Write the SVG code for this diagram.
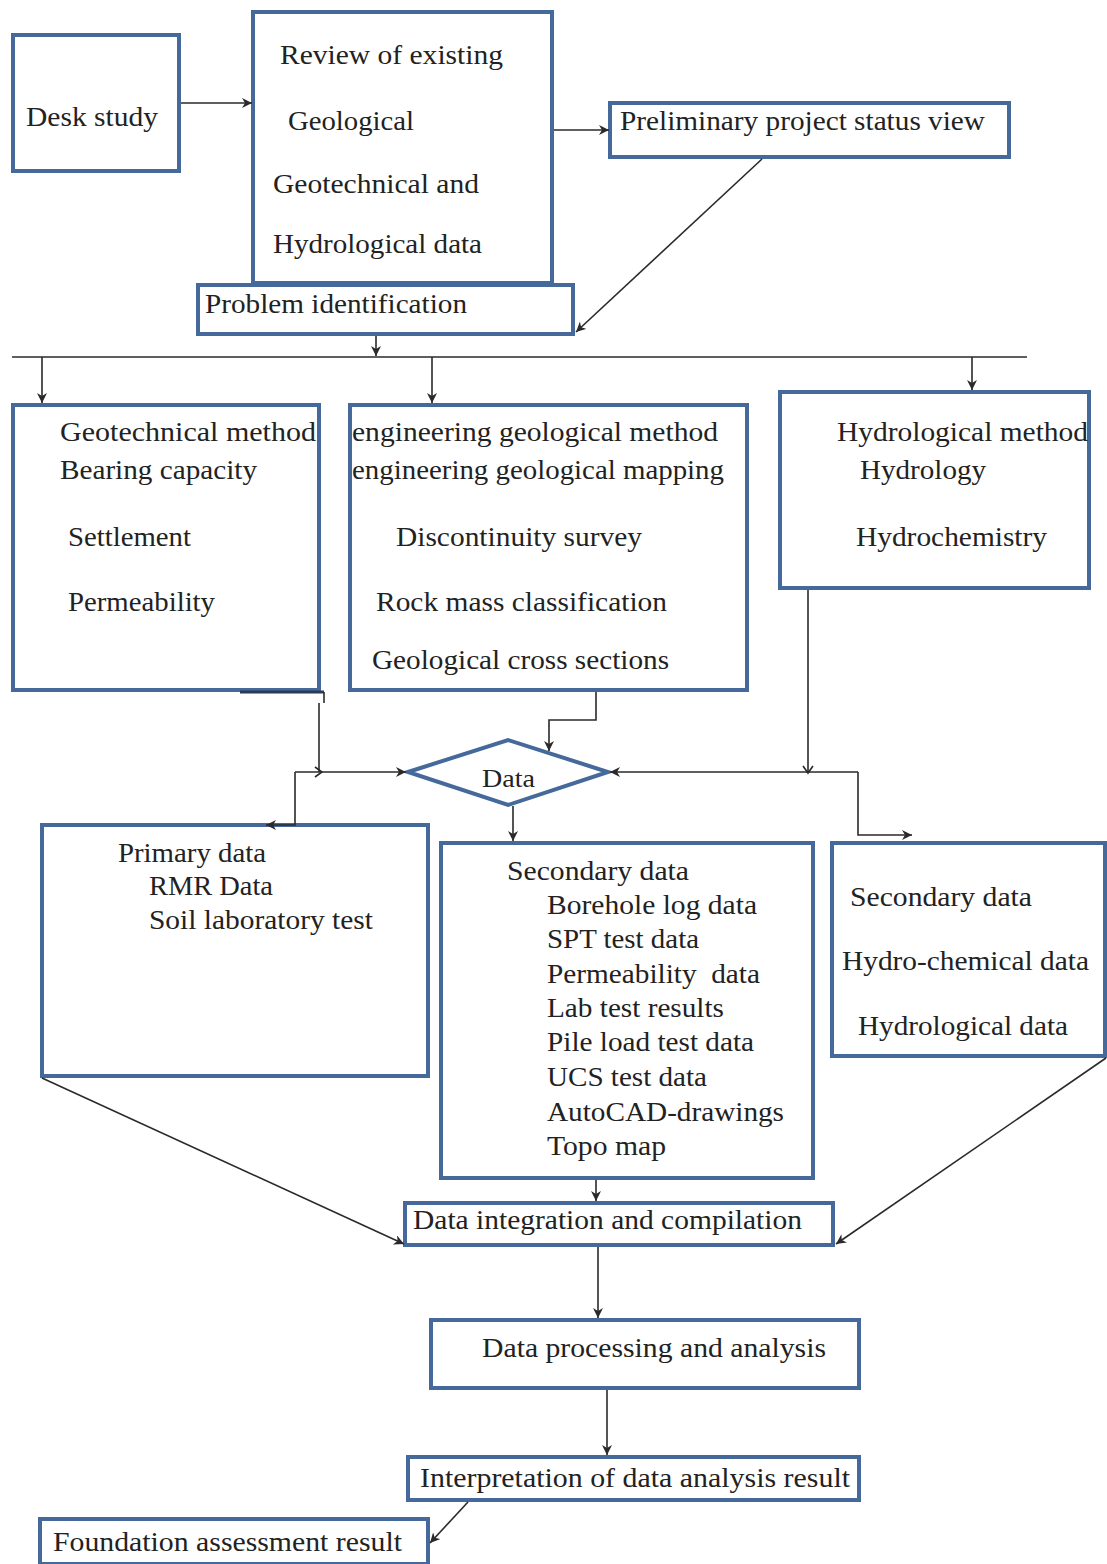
<svg xmlns="http://www.w3.org/2000/svg" width="1107" height="1564" viewBox="0 0 1107 1564">
<style>
.box{fill:#fff;stroke:#45699a;stroke-width:4}
.t{font-family:"Liberation Serif","Times New Roman",serif;font-size:28px;fill:#222}
.c{fill:none;stroke:#2a2a2a;stroke-width:1.6}
</style>
<defs>
<marker id="ah" markerUnits="userSpaceOnUse" markerWidth="12" markerHeight="12" refX="10" refY="5" orient="auto">
<path d="M0,0 L10,5 L0,10 L3,5 Z" fill="#2a2a2a"/>
</marker>
</defs>
<rect width="1107" height="1564" fill="#fff"/>

<g id="desk-study">
<rect class="box" x="13" y="35" width="166" height="136"/>
<text class="t" x="26" y="126" textLength="132" lengthAdjust="spacingAndGlyphs">Desk study</text>
</g>

<g id="review">
<rect class="box" x="253" y="12" width="299" height="271"/>
<text class="t" x="280" y="64" textLength="223" lengthAdjust="spacingAndGlyphs">Review of existing</text>
<text class="t" x="288" y="130" textLength="126" lengthAdjust="spacingAndGlyphs">Geological</text>
<text class="t" x="273" y="193" textLength="206" lengthAdjust="spacingAndGlyphs">Geotechnical and</text>
<text class="t" x="273" y="253" textLength="209" lengthAdjust="spacingAndGlyphs">Hydrological data</text>
</g>

<g id="preliminary">
<rect class="box" x="610" y="103" width="399" height="54"/>
<text class="t" x="620" y="130" textLength="365" lengthAdjust="spacingAndGlyphs">Preliminary project status view</text>
</g>

<g id="problem">
<rect class="box" x="198" y="285" width="375" height="49"/>
<text class="t" x="205" y="313" textLength="262" lengthAdjust="spacingAndGlyphs">Problem identification</text>
</g>

<g id="geotechnical">
<rect class="box" x="13" y="405" width="306" height="285"/>
<text class="t" x="60" y="441" textLength="256" lengthAdjust="spacingAndGlyphs">Geotechnical method</text>
<text class="t" x="60" y="479" textLength="197" lengthAdjust="spacingAndGlyphs">Bearing capacity</text>
<text class="t" x="68" y="546" textLength="123" lengthAdjust="spacingAndGlyphs">Settlement</text>
<text class="t" x="68" y="611" textLength="147" lengthAdjust="spacingAndGlyphs">Permeability</text>
</g>

<g id="engineering">
<rect class="box" x="350" y="405" width="397" height="285"/>
<text class="t" x="352" y="441" textLength="366" lengthAdjust="spacingAndGlyphs">engineering geological method</text>
<text class="t" x="352" y="479" textLength="372" lengthAdjust="spacingAndGlyphs">engineering geological mapping</text>
<text class="t" x="396" y="546" textLength="246" lengthAdjust="spacingAndGlyphs">Discontinuity survey</text>
<text class="t" x="376" y="611" textLength="291" lengthAdjust="spacingAndGlyphs">Rock mass classification</text>
<text class="t" x="372" y="669" textLength="297" lengthAdjust="spacingAndGlyphs">Geological cross sections</text>
</g>

<g id="hydrological">
<rect class="box" x="780" y="392" width="309" height="196"/>
<text class="t" x="837" y="441" textLength="251" lengthAdjust="spacingAndGlyphs">Hydrological method</text>
<text class="t" x="860" y="479" textLength="126" lengthAdjust="spacingAndGlyphs">Hydrology</text>
<text class="t" x="856" y="546" textLength="191" lengthAdjust="spacingAndGlyphs">Hydrochemistry</text>
</g>

<g id="data">
<polygon class="box" points="408,772 508,740 608,772 508,805"/>
<text class="t" x="482" y="787" textLength="53" lengthAdjust="spacingAndGlyphs" style="font-size:26px">Data</text>
</g>

<g id="primary">
<rect class="box" x="42" y="825" width="386" height="251"/>
<text class="t" x="118" y="862" textLength="148" lengthAdjust="spacingAndGlyphs">Primary data</text>
<text class="t" x="149" y="895" textLength="124" lengthAdjust="spacingAndGlyphs">RMR Data</text>
<text class="t" x="149" y="929" textLength="224" lengthAdjust="spacingAndGlyphs">Soil laboratory test</text>
</g>

<g id="secondary-center">
<rect class="box" x="441" y="843" width="372" height="335"/>
<text class="t" x="507" y="880" textLength="182" lengthAdjust="spacingAndGlyphs">Secondary data</text>
<text class="t" x="547" y="914" textLength="210" lengthAdjust="spacingAndGlyphs">Borehole log data</text>
<text class="t" x="547" y="948" textLength="152" lengthAdjust="spacingAndGlyphs">SPT test data</text>
<text class="t" x="547" y="983" textLength="213" lengthAdjust="spacingAndGlyphs" xml:space="preserve">Permeability  data</text>
<text class="t" x="547" y="1017" textLength="177" lengthAdjust="spacingAndGlyphs">Lab test results</text>
<text class="t" x="547" y="1051" textLength="207" lengthAdjust="spacingAndGlyphs">Pile load test data</text>
<text class="t" x="547" y="1086" textLength="160" lengthAdjust="spacingAndGlyphs">UCS test data</text>
<text class="t" x="547" y="1121" textLength="237" lengthAdjust="spacingAndGlyphs">AutoCAD-drawings</text>
<text class="t" x="547" y="1155" textLength="119" lengthAdjust="spacingAndGlyphs">Topo map</text>
</g>

<g id="secondary-right">
<rect class="box" x="832" y="843" width="273" height="213"/>
<text class="t" x="850" y="906" textLength="182" lengthAdjust="spacingAndGlyphs">Secondary data</text>
<text class="t" x="842" y="970" textLength="247" lengthAdjust="spacingAndGlyphs">Hydro-chemical data</text>
<text class="t" x="858" y="1035" textLength="210" lengthAdjust="spacingAndGlyphs">Hydrological data</text>
</g>

<g id="integration">
<rect class="box" x="405" y="1203" width="428" height="42"/>
<text class="t" x="413" y="1229" textLength="389" lengthAdjust="spacingAndGlyphs">Data integration and compilation</text>
</g>

<g id="processing">
<rect class="box" x="431" y="1320" width="428" height="68"/>
<text class="t" x="482" y="1357" textLength="344" lengthAdjust="spacingAndGlyphs">Data processing and analysis</text>
</g>

<g id="interpretation">
<rect class="box" x="408" y="1457" width="451" height="43"/>
<text class="t" x="420" y="1487" textLength="430" lengthAdjust="spacingAndGlyphs">Interpretation of data analysis result</text>
</g>

<g id="foundation">
<rect class="box" x="40" y="1519" width="388" height="45"/>
<text class="t" x="53" y="1551" textLength="349" lengthAdjust="spacingAndGlyphs">Foundation assessment result</text>
</g>

<g id="connectors">
<path class="c" d="M181,103 H252" marker-end="url(#ah)"/>
<path class="c" d="M554,130 H609" marker-end="url(#ah)"/>
<path class="c" d="M762,159 L576,332" marker-end="url(#ah)"/>
<path class="c" d="M376,336 V356" marker-end="url(#ah)"/>
<path class="c" d="M12,357 H1027"/>
<path class="c" d="M42,357 V403" marker-end="url(#ah)"/>
<path class="c" d="M432,357 V403" marker-end="url(#ah)"/>
<path class="c" d="M972,357 V390" marker-end="url(#ah)"/>
<path d="M240,692 H324" fill="none" stroke="#2a3a55" stroke-width="3"/>
<path class="c" d="M324,692 V703"/>
<path class="c" d="M319,703 V772"/>
<path class="c" d="M315,767 L322,772 L315,777"/>
<path class="c" d="M295,772 H406" marker-end="url(#ah)"/>
<path class="c" d="M295,772 V825 H266" marker-end="url(#ah)"/>
<path class="c" d="M596,692 V720 H549 V751" marker-end="url(#ah)"/>
<path class="c" d="M808,590 V772"/>
<path class="c" d="M803,766 L808,773 L813,766"/>
<path class="c" d="M858,772 H610" marker-end="url(#ah)"/>
<path class="c" d="M858,772 V835 H912" marker-end="url(#ah)"/>
<path class="c" d="M513,806 V841" marker-end="url(#ah)"/>
<path class="c" d="M42,1078 L404,1244" marker-end="url(#ah)"/>
<path class="c" d="M1106,1058 L836,1244" marker-end="url(#ah)"/>
<path class="c" d="M596,1180 V1201" marker-end="url(#ah)"/>
<path class="c" d="M598,1247 V1318" marker-end="url(#ah)"/>
<path class="c" d="M607,1390 V1455" marker-end="url(#ah)"/>
<path class="c" d="M468,1502 L430,1543" marker-end="url(#ah)"/>
</g>
</svg>
